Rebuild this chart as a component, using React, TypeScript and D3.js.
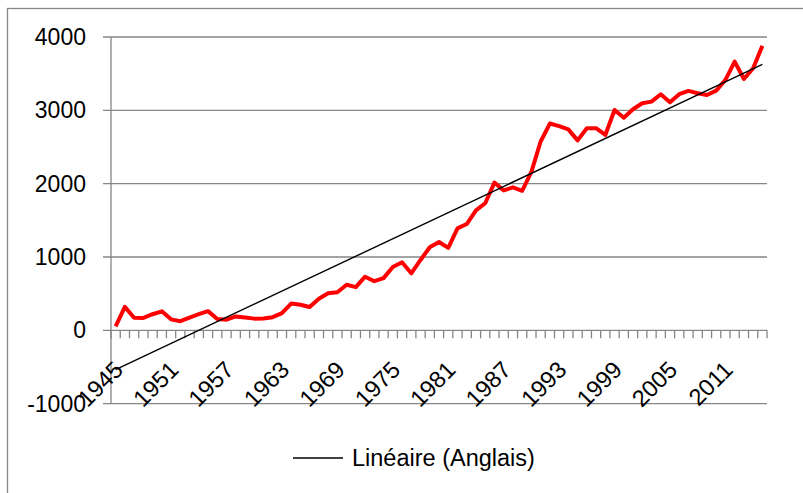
import React from "react";
import * as d3 from "d3";

const years: number[] = [
  1945, 1946, 1947, 1948, 1949, 1950, 1951, 1952, 1953, 1954, 1955, 1956, 1957, 1958, 1959,
  1960, 1961, 1962, 1963, 1964, 1965, 1966, 1967, 1968, 1969, 1970, 1971, 1972, 1973, 1974,
  1975, 1976, 1977, 1978, 1979, 1980, 1981, 1982, 1983, 1984, 1985, 1986, 1987, 1988, 1989,
  1990, 1991, 1992, 1993, 1994, 1995, 1996, 1997, 1998, 1999, 2000, 2001, 2002, 2003, 2004,
  2005, 2006, 2007, 2008, 2009, 2010, 2011, 2012, 2013, 2014, 2015,
];

const anglais: number[] = [
  55, 320, 172, 170, 220, 260, 150, 125, 175, 220,
  262, 155, 145, 190, 175, 160, 162, 180, 235, 365,
  350, 318, 430, 505, 520, 622, 590, 732, 670, 712,
  865, 928, 778, 960, 1133, 1205, 1125, 1390, 1450, 1635,
  1733, 2015, 1908, 1950, 1903, 2160, 2575, 2820, 2785, 2740,
  2590, 2756, 2756, 2664, 3005, 2900, 3015, 3097, 3119, 3220,
  3110, 3220, 3265, 3233, 3210, 3269, 3415, 3664, 3428, 3574,
  3879,
];

const xTickLabels: number[] = [1945, 1951, 1957, 1963, 1969, 1975, 1981, 1987, 1993, 1999, 2005, 2011];
const yTicks: number[] = [-1000, 0, 1000, 2000, 3000, 4000];
const legendLabel = "Linéaire (Anglais)";

const W = 803;
const H = 493;
const FONT = "'Liberation Sans', Arial, sans-serif";
const GRID = "#868686";

export default function App() {
  const plotLeft = 111;
  const plotRight = 767;
  const x = d3.scaleBand<number>().domain(years).range([plotLeft, plotRight]).paddingInner(0).paddingOuter(0);
  const bw = x.bandwidth();
  const cx = (yr: number) => (x(yr) as number) + bw / 2;
  const y = d3.scaleLinear().domain([-1000, 4000]).range([403.7, 37]);

  const line = d3
    .line<number>()
    .x((_, i) => cx(years[i]))
    .y((v) => y(v));

  // linear trend (least squares on category index, like Excel)
  const idx = anglais.map((_, i) => i + 1);
  const mx = d3.mean(idx) as number;
  const my = d3.mean(anglais) as number;
  let num = 0;
  let den = 0;
  idx.forEach((xi, i) => {
    num += (xi - mx) * (anglais[i] - my);
    den += (xi - mx) * (xi - mx);
  });
  const slope = num / den;
  const intercept = my - slope * mx;
  const tStart = intercept + slope * idx[0];
  const tEnd = intercept + slope * idx[idx.length - 1];

  const boundaries = d3.range(years.length + 1).map((k) => plotLeft + k * bw);

  return (
    <svg
      width={W}
      height={H}
      style={{ position: "absolute", left: 0, top: 0, background: "#fff" }}
      fontFamily={FONT}
    >
      <rect x={0} y={0} width={W} height={H} fill="#fff" />
      {/* chart area border (cropped at right/bottom) */}
      <rect x={7.5} y={8.5} width={W + 20} height={H + 20} fill="none" stroke={GRID} strokeWidth={1.3} />

      {/* gridlines */}
      {yTicks.map((t) => (
        <line key={"g" + t} x1={plotLeft - 8} x2={plotRight} y1={y(t)} y2={y(t)} stroke={GRID} strokeWidth={1.3} />
      ))}
      {/* y axis */}
      <line x1={plotLeft} x2={plotLeft} y1={y(4000)} y2={y(-1000)} stroke={GRID} strokeWidth={1.3} />
      {/* x axis ticks */}
      {boundaries.map((bx, k) => (
        <line key={"t" + k} x1={bx} x2={bx} y1={y(0)} y2={y(0) + 8} stroke={GRID} strokeWidth={1.3} />
      ))}

      {/* y labels */}
      {yTicks.map((t) => (
        <text key={"yl" + t} x={plotLeft - 25} y={y(t)} dy="0.35em" textAnchor="end" fontSize={23} fill="#000">
          {t}
        </text>
      ))}

      {/* x labels */}
      {xTickLabels.map((yr) => (
        <text
          key={"xl" + yr}
          transform={`translate(${cx(yr) + 3},${y(0) + 35}) rotate(-45)`}
          textAnchor="end"
          dy="0.35em"
          fontSize={23.5}
          fill="#000"
        >
          {yr}
        </text>
      ))}

      {/* series */}
      <path d={line(anglais) || ""} fill="none" stroke="#ff0000" strokeWidth={4} strokeLinejoin="round" />

      {/* trend line */}
      <line
        x1={cx(years[0])}
        x2={cx(years[years.length - 1])}
        y1={y(tStart)}
        y2={y(tEnd)}
        stroke="#000"
        strokeWidth={1.4}
      />

      {/* legend */}
      <line x1={293} x2={343} y1={458} y2={458} stroke="#000" strokeWidth={1.4} />
      <text x={352} y={458} dy="0.35em" fontSize={23.5} fill="#000">
        {legendLabel}
      </text>
    </svg>
  );
}
